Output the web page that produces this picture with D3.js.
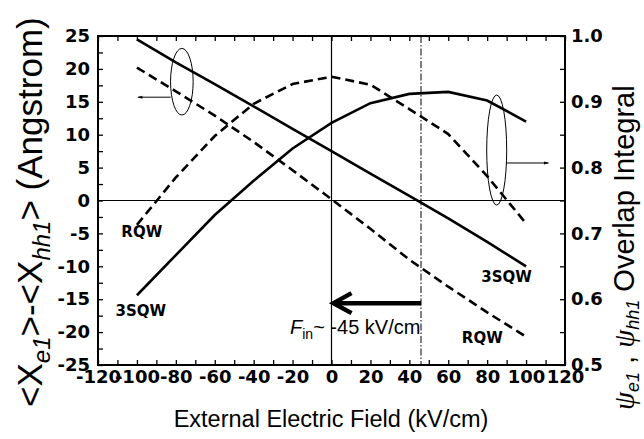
<!DOCTYPE html>
<html>
<head>
<meta charset="utf-8">
<script src="https://cdn.jsdelivr.net/npm/d3@7"></script>
<style>
  body { margin: 0; background: #fff; }
  svg { display: block; }
  text { font-family: "Liberation Sans", Arial, Helvetica, sans-serif; }
</style>
</head>
<body>
<svg id="chart" width="644" height="439"></svg>
<script>

// field values (kV/cm) where the curves were sampled
let field = [-100, -80, -60, -40, -20, 0, 20, 40, 60, 80, 100];

// <x_e1>-<x_hh1> (Angstrom), left axis
let dx3SQW = [24.5, 21.0, 17.7, 14.3, 10.9, 7.5, 4.1, 0.7, -2.7, -6.3, -10.0];
let dxRQW  = [20.2, 16.6, 12.9, 8.9, 4.6, 0.2, -4.3, -9.0, -13.1, -17.0, -20.7];

// overlap integral, right axis
let ov3SQW = [0.606, 0.667, 0.728, 0.780, 0.829, 0.868, 0.898, 0.912, 0.915, 0.902, 0.870];
let ovRQW  = [0.713, 0.785, 0.848, 0.897, 0.927, 0.938, 0.926, 0.889, 0.851, 0.787, 0.715];

let xTicks = d3.range(-120, 121, 10);
let yLeftTicks = d3.range(-25, 25.01, 2.5);
let yRightTicks = d3.range(0.5, 1.001, 0.05);

let internalField = 46;   // dash-dot line
let fieldLabel = "-45 kV/cm";

// ---------------------------------------------------------
let svg = d3.select("#chart");
let position = { left: 98, top: 36, right: 565, bottom: 365 };

let x = d3.scaleLinear().domain([-120, 120]).range([position.left, position.right]);
let yL = d3.scaleLinear().domain([-25, 25]).range([position.bottom, position.top]);
let yR = d3.scaleLinear().domain([0.5, 1.0]).range([position.bottom, position.top]);

let boldFont = "'DejaVu Sans', Verdana, sans-serif";

let defs = svg.append("defs");
defs.append("marker")
    .attr("id", "thinhead")
    .attr("viewBox", "0 0 10 10")
    .attr("refX", 9).attr("refY", 5)
    .attr("markerWidth", 9).attr("markerHeight", 5)
    .attr("markerUnits", "userSpaceOnUse")
    .attr("orient", "auto")
    .append("path")
      .attr("d", "M0,2 L10,5 L0,8 Z")
      .style("fill", "black");

// axes, ticks inward
let tickFont = g => g.selectAll("text")
    .style("font-family", boldFont)
    .style("font-size", "18px")
    .style("font-weight", "bold")
    .style("fill", "black");

let axisStyle = g => {
    g.select(".domain").remove();
    g.selectAll("line").style("stroke", "black").style("stroke-width", 1.3);
};

svg.append("g")
    .attr("transform", "translate(0," + position.bottom + ")")
    .call(d3.axisBottom(x).tickValues(xTicks).tickSize(-5).tickPadding(5)
        .tickFormat(d => d % 20 === 0 ? d : ""))
    .call(axisStyle).call(tickFont);

svg.append("g")
    .attr("transform", "translate(0," + position.top + ")")
    .call(d3.axisTop(x).tickValues(xTicks).tickSize(-5).tickFormat(""))
    .call(axisStyle);

svg.append("g")
    .attr("transform", "translate(" + position.left + ",0)")
    .call(d3.axisLeft(yL).tickValues(yLeftTicks).tickSize(-5).tickPadding(8)
        .tickFormat(d => d % 5 === 0 ? d : ""))
    .call(axisStyle).call(tickFont);

svg.append("g")
    .attr("transform", "translate(" + position.right + ",0)")
    .call(d3.axisRight(yR).tickValues(yRightTicks).tickSize(-5).tickPadding(6)
        .tickFormat(d => Math.abs(d * 10 - Math.round(d * 10)) < 1e-6 ? d3.format(".1f")(d) : ""))
    .call(axisStyle).call(tickFont);

// frame
svg.append("rect")
    .attr("x", position.left).attr("y", position.top)
    .attr("width", position.right - position.left)
    .attr("height", position.bottom - position.top)
    .style("fill", "none").style("stroke", "black").style("stroke-width", 2);

// zero lines
svg.append("line")
    .attr("x1", x(0)).attr("x2", x(0))
    .attr("y1", position.top).attr("y2", position.bottom)
    .style("stroke", "black").style("stroke-width", 1.2);
svg.append("line")
    .attr("x1", position.left).attr("x2", position.right)
    .attr("y1", yL(0)).attr("y2", yL(0))
    .style("stroke", "black").style("stroke-width", 1.2);

// dash-dot line at internal field
svg.append("line")
    .attr("x1", x(internalField)).attr("x2", x(internalField))
    .attr("y1", position.top).attr("y2", position.bottom)
    .style("stroke", "black").style("stroke-width", 1)
    .style("stroke-dasharray", "7,2,1.5,2");

// curves
let series = [
    { vals: dx3SQW, scale: yL, dash: null },
    { vals: dxRQW,  scale: yL, dash: "9,5" },
    { vals: ov3SQW, scale: yR, dash: null },
    { vals: ovRQW,  scale: yR, dash: "9,5" }
];

series.forEach(s => {
    let line = d3.line()
        .x((d, i) => x(field[i]))
        .y(d => s.scale(d));
    svg.append("path")
        .datum(s.vals)
        .attr("d", line)
        .style("fill", "none")
        .style("stroke", "black")
        .style("stroke-width", 2.6)
        .style("stroke-dasharray", s.dash);
});

// ellipses with arrows pointing at their axis
svg.append("ellipse")
    .attr("cx", x(-76.9)).attr("cy", yL(18.05))
    .attr("rx", 11.3).attr("ry", 33.3)
    .style("fill", "none").style("stroke", "black").style("stroke-width", 1);
svg.append("line")
    .attr("x1", x(-82.7)).attr("y1", yL(15.7))
    .attr("x2", x(-99.5)).attr("y2", yL(15.7))
    .style("stroke", "black").style("stroke-width", 1)
    .attr("marker-end", "url(#thinhead)");

svg.append("ellipse")
    .attr("cx", x(84.9)).attr("cy", yR(0.8267))
    .attr("rx", 10).attr("ry", 55)
    .style("fill", "none").style("stroke", "black").style("stroke-width", 1);
svg.append("line")
    .attr("x1", x(90)).attr("y1", yR(0.807))
    .attr("x2", x(111.5)).attr("y2", yR(0.807))
    .style("stroke", "black").style("stroke-width", 1)
    .attr("marker-end", "url(#thinhead)");

// thick arrow toward zero field
let arrowY = yL(-15.6);
svg.append("line")
    .attr("x1", x(internalField)).attr("y1", arrowY)
    .attr("x2", x(0) + 3).attr("y2", arrowY)
    .style("stroke", "black").style("stroke-width", 4.5);
svg.append("path")
    .attr("d", "M" + (x(0) + 20) + "," + (arrowY - 10) +
               " L" + (x(0) + 2) + "," + arrowY +
               " L" + (x(0) + 20) + "," + (arrowY + 10))
    .style("fill", "none").style("stroke", "black").style("stroke-width", 4.5)
    .style("stroke-linejoin", "miter");

let fin = svg.append("text")
    .attr("x", 290).attr("y", 334)
    .style("font-size", "20px");
fin.append("tspan").text("F").style("font-style", "italic");
fin.append("tspan").text("in").attr("dy", 5).style("font-size", "14px");
fin.append("tspan").text("~ " + fieldLabel).attr("dy", -5);

// curve labels
let labels = [
    { t: "RQW",  fx: -108, v: -5.6 },
    { t: "3SQW", fx: -111, v: -17.6 },
    { t: "3SQW", fx: 77,   v: -12.4 },
    { t: "RQW",  fx: 67,   v: -21.6 }
];
svg.selectAll(".clabel")
    .data(labels)
    .enter().append("text")
      .attr("class", "clabel")
      .attr("x", d => x(d.fx))
      .attr("y", d => yL(d.v))
      .style("font-family", boldFont)
      .style("font-size", "15px")
      .style("font-weight", "bold")
      .text(d => d.t);

// axis titles
svg.append("text")
    .attr("x", 331).attr("y", 427)
    .attr("text-anchor", "middle")
    .style("font-size", "23.5px")
    .text("External Electric Field (kV/cm)");

let lt = svg.append("text")
    .attr("transform", "translate(42,407) rotate(-90)")
    .style("font-size", "35px");
lt.append("tspan").text("<X");
lt.append("tspan").text("e1").attr("dy", 8).style("font-size", "24px").style("font-style", "italic");
lt.append("tspan").text(">-<X").attr("dy", -8);
lt.append("tspan").text("hh1").attr("dy", 8).style("font-size", "24px").style("font-style", "italic");
lt.append("tspan").text("> (Angstrom)").attr("dy", -8);

let rt = svg.append("text")
    .attr("transform", "translate(634,410) rotate(-90)")
    .style("font-size", "29px");
rt.append("tspan").text("\u03C8").style("font-style", "italic").style("font-family", "'Liberation Serif', serif");
rt.append("tspan").text("e1").attr("dy", 5).style("font-size", "18px").style("font-style", "italic");
rt.append("tspan").text(" , ").attr("dy", -5);
rt.append("tspan").text("\u03C8").style("font-style", "italic").style("font-family", "'Liberation Serif', serif");
rt.append("tspan").text("hh1").attr("dy", 5).style("font-size", "18px").style("font-style", "italic");
rt.append("tspan").text(" Overlap Integral").attr("dy", -5);

</script>
</body>
</html>
